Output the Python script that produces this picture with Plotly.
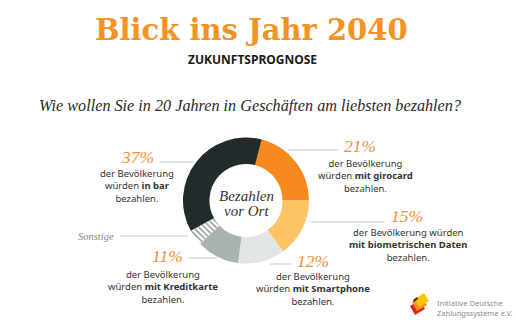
import plotly.graph_objects as go

W, H = 516, 323

# ---- data ----
categories = ["girocard", "biometrische Daten", "Smartphone", "Kreditkarte", "Sonstige", "in bar"]
shares = [21, 15, 12, 11, 4, 37]
colors = ["#f7891f", "#fdc463", "#e1e5e3", "#a9b4b1", "#ffffff", "#232a2c"]
patterns = ["", "", "", "", "\\", ""]

title_text = "Blick ins Jahr 2040"
subtitle_text = "ZUKUNFTSPROGNOSE"
question_text = "Wie wollen Sie in 20 Jahren in Geschäften am liebsten bezahlen?"
center_lines = ["Bezahlen", "vor Ort"]

labels_pct = ["21%", "15%", "12%", "11%", "37%"]


def px(x):
    return x / W


def py(y):
    return 1 - y / H


CX, CY, R = 246, 200.5, 63

# first slice (girocard) starts 14.4 degrees clockwise from 12 o'clock
start_angle = 14.4

fig = go.Figure()
fig.add_trace(go.Pie(
    labels=categories, values=shares, sort=False, direction="clockwise",
    rotation=start_angle,
    hole=0.58, textinfo="none", hoverinfo="skip", showlegend=False,
    marker=dict(colors=colors, line=dict(color="#ffffff", width=0),
                pattern=dict(shape=patterns, fgcolor="#8a8f8e", bgcolor=colors,
                             size=4, solidity=0.35, fillmode="replace")),
    domain=dict(x=[px(CX - R), px(CX + R)], y=[py(CY + R), py(CY - R)]),
))

ann = []


def text(x, y, t, size, color="#333333", family="Noto Sans", xanchor="center", align="center"):
    ann.append(dict(x=px(x), y=py(y), xref="paper", yref="paper", text=t, showarrow=False,
                    xanchor=xanchor, yanchor="middle", align=align,
                    font=dict(size=size, color=color, family=family)))


ORANGE = "#f39325"
PCT = "#ef8f3a"
serif = "Liberation Serif"

text(251, 30, "<b>" + title_text + "</b>", 29, ORANGE, "DejaVu Serif")
text(252, 59, "<b>" + subtitle_text + "</b>", 12, "#1a1a1a")
text(250, 106, "<i>" + question_text + "</i>", 16.2, "#2a2a2a", serif)
text(CX, 196, "<i>" + center_lines[0] + "</i>", 15, "#333333", serif)
text(CX, 211, "<i>" + center_lines[1] + "</i>", 15, "#333333", serif)

# percentages
P = 17.5
text(137, 157, "<i>" + labels_pct[4] + "</i>", P, PCT, serif)
text(360, 146, "<i>" + labels_pct[0] + "</i>", P, PCT, serif)
text(407, 216, "<i>" + labels_pct[1] + "</i>", P, PCT, serif)
text(313, 261, "<i>" + labels_pct[2] + "</i>", P, PCT, serif)
text(167, 256, "<i>" + labels_pct[3] + "</i>", P, PCT, serif)
text(96, 236, "<i>Sonstige</i>", 10.5, "#8a8a8a", serif)

# descriptions
B = 9.5
text(137, 186, "der Bevölkerung<br>würden <b>in bar</b><br>bezahlen.", B)
text(365, 176, "der Bevölkerung<br>würden <b>mit girocard</b><br>bezahlen.", B)
text(408, 245, "der Bevölkerung würden<br><b>mit biometrischen Daten</b><br>bezahlen.", B)
text(313, 289, "der Bevölkerung<br>würden <b>mit Smartphone</b><br>bezahlen.", B)
text(163, 287, "der Bevölkerung<br>würden <b>mit Kreditkarte</b><br>bezahlen.", B)

# logo text
text(435, 308, "Initiative Deutsche<br>Zahlungssysteme e.V.", 7.5, "#8a8a8a", xanchor="left", align="left")

shapes = []
LINE = "#c8c8c8"
for (x0, x1, y) in [(160, 194, 162), (288, 338, 150), (310, 385, 222),
                    (270, 292, 264), (120, 188, 236), (188, 217, 258)]:
    shapes.append(dict(type="line", xref="paper", yref="paper", x0=px(x0), x1=px(x1),
                       y0=py(y), y1=py(y), line=dict(color=LINE, width=1)))


# logo mark (small stacked cards)
def poly(pts, color):
    d = "M " + " L ".join(f"{px(a)},{py(b)}" for a, b in pts) + " Z"
    shapes.append(dict(type="path", xref="paper", yref="paper", path=d,
                       fillcolor=color, line=dict(width=0)))


poly([(410, 306), (420, 300), (425, 309), (415, 315)], "#e2231a")
poly([(412, 302), (422, 296), (427, 305), (417, 311)], "#f39325")
poly([(415, 299), (424, 293), (429, 301), (419, 307)], "#fdc500")
poly([(413, 300), (417, 297), (418, 299), (414, 302)], "#333333")

fig.update_layout(width=W, height=H, margin=dict(l=0, r=0, t=0, b=0),
                  paper_bgcolor="#ffffff", plot_bgcolor="#ffffff",
                  annotations=ann, shapes=shapes)
fig.write_html("out.html")
